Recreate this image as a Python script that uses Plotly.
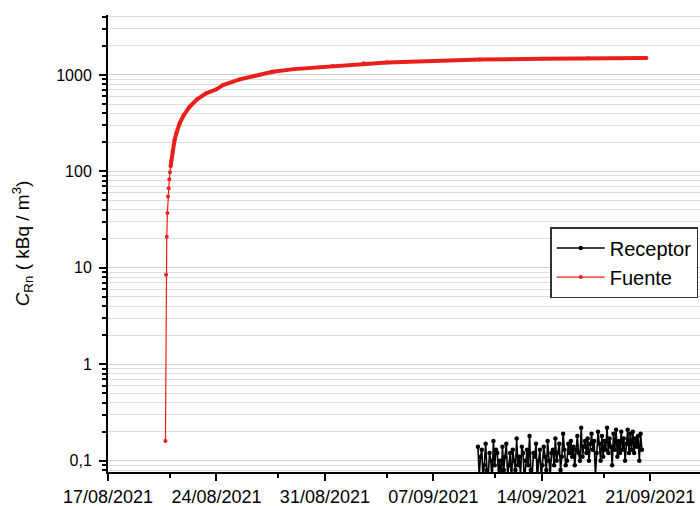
import plotly.graph_objects as go
import pandas as pd

# ---------------- data ----------------
fuente_time = ["2021-08-20 17:00", "2021-08-20 18:00", "2021-08-20 19:00", "2021-08-20 20:00",
               "2021-08-20 21:00", "2021-08-20 22:00", "2021-08-20 23:00", "2021-08-21 00:00",
               "2021-08-21 01:00", "2021-08-21 02:00", "2021-08-21 04:00", "2021-08-21 07:00",
               "2021-08-21 10:00", "2021-08-21 15:00", "2021-08-21 21:00", "2021-08-22 06:00",
               "2021-08-22 18:00", "2021-08-23 08:00", "2021-08-24 00:00", "2021-08-24 10:00",
               "2021-08-25 12:00", "2021-08-26 12:00", "2021-08-27 15:00", "2021-08-29 00:00",
               "2021-08-30 16:00", "2021-08-31 12:00", "2021-09-02 12:00", "2021-09-04 00:00",
               "2021-09-07 00:00", "2021-09-10 00:00", "2021-09-14 00:00", "2021-09-17 00:00",
               "2021-09-20 18:00"]
fuente_val = [0.16, 8.5, 21, 37, 55, 67, 83, 98, 113, 128, 160, 210, 250, 315, 380, 465,
              560, 645, 710, 785, 900, 980, 1080, 1150, 1200, 1240, 1320, 1350, 1395, 1445,
              1475, 1490, 1500]

receptor_start = "2021-09-09 21:00"
receptor_step = "2h"
receptor_val = [0.14, 0.07, 0.11, 0.13, 0.06, 0.09, 0.15, 0.08, 0.07, 0.12, 0.10, 0.06,
                0.16, 0.09, 0.13, 0.12, 0.07, 0.10, 0.06, 0.14, 0.08, 0.11, 0.15, 0.07,
                0.09, 0.12, 0.06, 0.13, 0.10, 0.08, 0.17, 0.09, 0.11, 0.07, 0.14, 0.12,
                0.06, 0.10, 0.13, 0.09, 0.18, 0.08, 0.07, 0.12, 0.11, 0.15, 0.06, 0.10,
                0.13, 0.065, 0.09, 0.14, 0.11, 0.08, 0.16, 0.10, 0.07, 0.12, 0.13, 0.09,
                0.17, 0.10, 0.12, 0.15, 0.08, 0.11, 0.19, 0.13, 0.09, 0.10, 0.15, 0.12,
                0.16, 0.11, 0.14, 0.09, 0.13, 0.18, 0.12, 0.10, 0.22, 0.11, 0.14, 0.16,
                0.12, 0.17, 0.10, 0.15, 0.19, 0.13, 0.16, 0.07, 0.12, 0.20, 0.15, 0.10,
                0.18, 0.11, 0.16, 0.13, 0.22, 0.12, 0.17, 0.14, 0.09, 0.19, 0.13, 0.21,
                0.11, 0.16, 0.12, 0.20, 0.13, 0.17, 0.10, 0.15, 0.21, 0.12, 0.19, 0.13,
                0.20, 0.12, 0.17, 0.14, 0.18, 0.10, 0.19, 0.13]
receptor_time = pd.date_range(receptor_start, periods=len(receptor_val), freq=receptor_step)

y_tickvals = [0.1, 1, 10, 100, 1000]
y_ticktext = ["0,1", "1", "10", "100", "1000"]
x_tickvals = ["2021-08-17", "2021-08-24", "2021-08-31", "2021-09-07", "2021-09-14", "2021-09-21"]
x_ticktext = ["17/08/2021", "24/08/2021", "31/08/2021", "07/09/2021", "14/09/2021", "21/09/2021"]
x_minor = ["2021-08-21", "2021-08-28", "2021-09-04", "2021-09-11", "2021-09-18"]
y_minor = [k * 10 ** e for e in range(-2, 4) for k in range(2, 10)]

RED = "#e8201c"
FONT = "Liberation Sans, Arial, sans-serif"

fig = go.Figure()

# thick dense part of the source curve (no legend)
fig.add_trace(go.Scatter(
    x=fuente_time[8:], y=fuente_val[8:], mode="lines",
    line=dict(color=RED, width=4), showlegend=False, hoverinfo="skip"))

fig.add_trace(go.Scatter(
    x=list(receptor_time), y=receptor_val, name="Receptor", mode="lines+markers",
    line=dict(color="black", width=1.6), marker=dict(color="black", size=4.5)))

fig.add_trace(go.Scatter(
    x=fuente_time, y=fuente_val, name="Fuente", mode="lines+markers",
    line=dict(color=RED, width=1.2), marker=dict(color=RED, size=4)))

fig.update_layout(
    width=700, height=506,
    margin=dict(l=108, r=0, t=15, b=34, autoexpand=False),
    paper_bgcolor="white", plot_bgcolor="white",
    font=dict(family=FONT, color="black", size=16),
    legend=dict(x=0.747, y=0.536, xanchor="left", yanchor="top",
                bordercolor="#333333", borderwidth=1.5, bgcolor="white",
                font=dict(size=20, family=FONT), tracegroupgap=0,
                itemwidth=48, traceorder="normal"),
)

fig.update_xaxes(
    type="date", range=["2021-08-17 00:00", "2021-09-24 05:00"],
    automargin=False,
    tickmode="array", tickvals=x_tickvals, ticktext=x_ticktext,
    tickfont=dict(size=18, family=FONT),
    ticks="outside", ticklen=7, tickwidth=2, tickcolor="black",
    showline=True, linewidth=2, linecolor="black", showgrid=False, zeroline=False,
    minor=dict(tickmode="array", tickvals=x_minor, ticks="outside", ticklen=4,
               tickwidth=1.5, tickcolor="black", showgrid=False),
)

fig.update_yaxes(
    type="log", range=[-1.117, 3.622],
    automargin=False,
    tickmode="array", tickvals=y_tickvals, ticktext=y_ticktext,
    tickfont=dict(size=16, family=FONT), ticklabelstandoff=4,
    ticks="outside", ticklen=7, tickwidth=2, tickcolor="black",
    showline=True, linewidth=2, linecolor="black",
    showgrid=True, gridcolor="#d2d2d2", gridwidth=1, zeroline=False,
    minor=dict(tickmode="array", tickvals=y_minor, ticks="outside", ticklen=4,
               tickwidth=1.5, tickcolor="black", showgrid=True, gridcolor="#dedede",
               gridwidth=1),
    title=dict(text="<i>C</i><sub>Rn</sub> ( kBq / m<sup>3</sup>)",
               font=dict(size=19, family=FONT), standoff=22),
)

fig.write_html("out.html", config={"displayModeBar": False},
               post_script="document.body.style.margin='0';document.body.style.overflow='hidden';")
